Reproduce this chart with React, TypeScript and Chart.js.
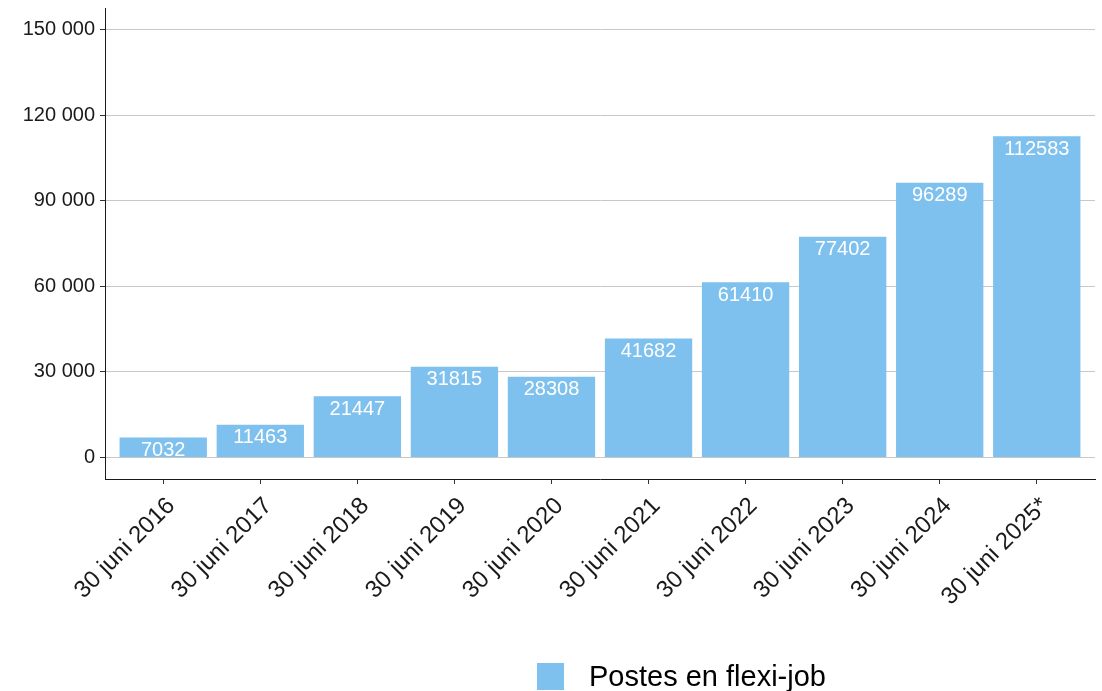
import React, { useEffect, useRef } from "react";
import { Chart, registerables } from "chart.js";

Chart.register(...registerables);

const categories = [
  "30 juni 2016",
  "30 juni 2017",
  "30 juni 2018",
  "30 juni 2019",
  "30 juni 2020",
  "30 juni 2021",
  "30 juni 2022",
  "30 juni 2023",
  "30 juni 2024",
  "30 juni 2025*",
];
const values = [7032, 11463, 21447, 31815, 28308, 41682, 61410, 77402, 96289, 112583];
const yTicks = [0, 30000, 60000, 90000, 120000, 150000];
const seriesLabel = "Postes en flexi-job";

const FONT = "'Liberation Sans', Arial, Helvetica, sans-serif";
const BAR_COLOR = "#7FC1EE";
const TEXT_COLOR = "#1a1a1a";

const fmt = (v: number) => String(v).replace(/\B(?=(\d{3})+(?!\d))/g, " ");

const labelPlugin = {
  id: "barLabels",
  afterDatasetsDraw(chart: any) {
    const ctx = chart.ctx;
    const meta = chart.getDatasetMeta(0);
    ctx.save();
    ctx.font = `20px ${FONT}`;
    ctx.fillStyle = "#ffffff";
    ctx.textAlign = "center";
    ctx.textBaseline = "alphabetic";
    meta.data.forEach((el: any, i: number) => {
      ctx.fillText(String(values[i]), el.x, el.y + 18.3);
    });
    ctx.restore();
  },
};

const xLabelPlugin = {
  id: "xLabels",
  afterDraw(chart: any) {
    const ctx = chart.ctx;
    const xs = chart.scales.x;
    ctx.save();
    ctx.font = `24px ${FONT}`;
    ctx.fillStyle = TEXT_COLOR;
    ctx.textAlign = "right";
    ctx.textBaseline = "alphabetic";
    categories.forEach((lab, i) => {
      const px = xs.getPixelForValue(i + 1);
      ctx.save();
      ctx.translate(px + 12.7, xs.top + 27.7);
      ctx.rotate(-Math.PI / 4);
      ctx.fillText(lab, 0, 0);
      ctx.restore();
    });
    ctx.restore();
  },
};

const legendPlugin = {
  id: "customLegend",
  afterDraw(chart: any) {
    const ctx = chart.ctx;
    ctx.save();
    ctx.fillStyle = BAR_COLOR;
    ctx.fillRect(537, 663, 27, 27);
    ctx.fillStyle = "#000000";
    ctx.font = `29px ${FONT}`;
    ctx.textAlign = "left";
    ctx.textBaseline = "alphabetic";
    ctx.fillText(seriesLabel, 589, 686);
    ctx.restore();
  },
};

export default function App() {
  const ref = useRef<HTMLCanvasElement | null>(null);

  useEffect(() => {
    if (!ref.current) return;
    const chart = new Chart(ref.current, {
      type: "bar",
      data: {
        datasets: [
          {
            label: seriesLabel,
            data: values.map((v, i) => ({ x: i + 1, y: v })),
            backgroundColor: BAR_COLOR,
            borderWidth: 0,
            categoryPercentage: 0.9,
            barPercentage: 1,
          },
        ],
      },
      options: {
        responsive: false,
        animation: false,
        layout: { padding: { top: 8, right: 7, left: 0, bottom: 0 } },
        plugins: {
          legend: { display: false },
          tooltip: { enabled: false },
        },
        scales: {
          x: {
            type: "linear",
            offset: false,
            min: 0.4,
            max: 10.6,
            afterBuildTicks: (s: any) => {
              s.ticks = categories.map((_, i) => ({ value: i + 1 }));
            },
            afterFit: (s: any) => {
              s.height = 212;
              s.paddingLeft = 0;
              s.paddingRight = 0;
            },
            ticks: {
              display: false,
              autoSkip: false,
            },
            grid: {
              offset: false,
              drawOnChartArea: false,
              drawTicks: true,
              tickLength: 5,
              tickColor: "#333333",
              tickWidth: 1,
            },
            border: { display: true, color: TEXT_COLOR, width: 1 },
          },
          y: {
            type: "linear",
            min: -7500,
            max: 157500,
            afterBuildTicks: (s: any) => {
              s.ticks = yTicks.map((v) => ({ value: v }));
            },
            afterFit: (s: any) => {
              s.width = 105;
              s.paddingTop = 0;
              s.paddingBottom = 0;
            },
            ticks: {
              padding: 5,
              color: TEXT_COLOR,
              font: { family: FONT, size: 20 },
              callback: (v: any) => fmt(Number(v)),
            },
            grid: {
              color: "#c8c8c8",
              lineWidth: 1,
              drawTicks: true,
              tickLength: 5,
              tickColor: "#333333",
            },
            border: { display: true, color: TEXT_COLOR, width: 1 },
          },
        },
      } as any,
      plugins: [labelPlugin, xLabelPlugin, legendPlugin],
    });
    return () => chart.destroy();
  }, []);

  return (
    <div style={{ position: "absolute", left: 0, top: 0, width: 1102, height: 691, background: "#fff" }}>
      <canvas ref={ref} width={1102} height={691} style={{ display: "block" }} />
    </div>
  );
}
